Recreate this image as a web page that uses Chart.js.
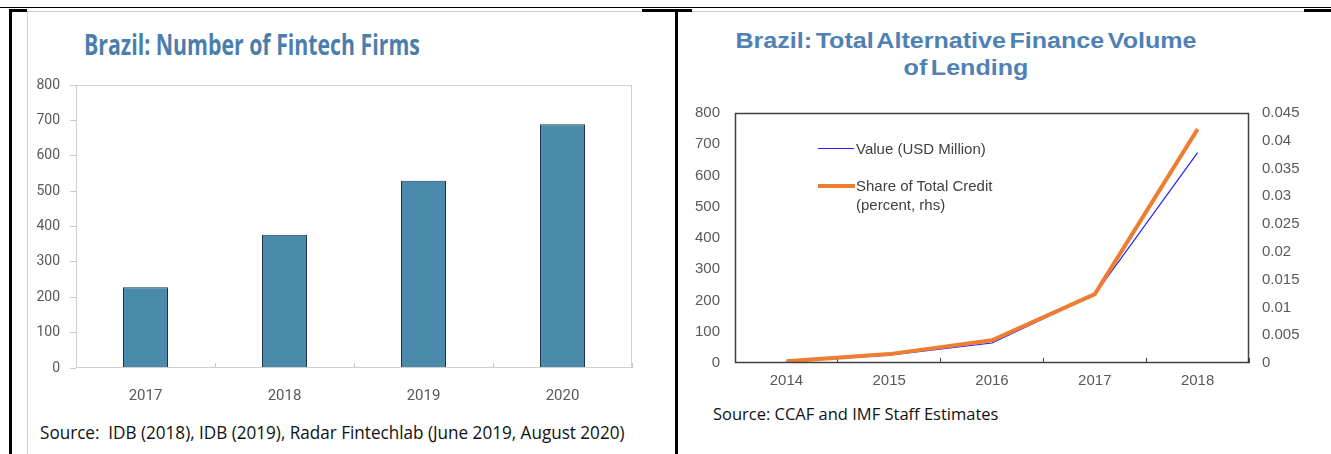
<!DOCTYPE html>
<html>
<head>
<meta charset="utf-8">
<script src="https://cdn.jsdelivr.net/npm/chart.js@4.4.1/dist/chart.umd.min.js"></script>
<style>
  html, body { margin: 0; padding: 0; background: #fff; }
  body { width: 1331px; height: 454px; position: relative; overflow: hidden; }
  .abs { position: absolute; }
  .rule { position: absolute; background: #000; }
  .gray { position: absolute; background: #d0d0d0; }
  canvas { position: absolute; }
  .t-left { left: 84px; top: 25px; font: bold 28px "Open Sans", sans-serif; color: #4a7ead;
            white-space: nowrap; transform-origin: left top; transform: scaleX(0.76); }
  .t-right { left: 700px; width: 532px; top: 27px; text-align: center; font: bold 22px "Liberation Sans", Arial, sans-serif;
             color: #4f81b5; line-height: 27px; word-spacing: -3px; white-space: nowrap;
             transform-origin: 266px 0; transform: scaleX(1.14); }
  .src { white-space: nowrap; color: #111; transform-origin: left top; }
  .src-left { left: 40px; top: 419px; font: 19px "Open Sans", sans-serif; transform: scaleX(0.9); }
  .src-right { left: 713px; top: 402px; font: 17px "Open Sans", sans-serif; transform: scaleX(0.97); }
  .leg { font: 15px "Liberation Sans", Arial, sans-serif; color: #404040; line-height: 19px; }
  .swatch { position: absolute; height: 0; }
</style>
</head>
<body>
<!-- page / table frame -->
<div class="rule" style="left:0;top:7px;width:1331px;height:1px;"></div>
<div class="rule" style="left:9px;top:9px;width:18px;height:3px;"></div>
<div class="rule" style="left:642px;top:9px;width:50px;height:3px;"></div>
<div class="rule" style="left:1304px;top:9px;width:27px;height:3px;"></div>
<div class="rule" style="left:9px;top:9px;width:3px;height:445px;"></div>
<div class="rule" style="left:675px;top:9px;width:3px;height:445px;"></div>
<div class="gray" style="left:27px;top:11px;width:615px;height:1px;"></div>
<div class="gray" style="left:692px;top:11px;width:612px;height:1px;"></div>
<div class="gray" style="left:27px;top:11px;width:1px;height:443px;"></div>

<div class="abs t-left">Brazil: Number of Fintech Firms</div>
<div class="abs t-right">Brazil: Total Alternative Finance Volume<br>of Lending</div>

<canvas id="firms" width="630" height="332" style="left:20px;top:78px;"></canvas>
<canvas id="lending" width="640" height="300" style="left:680px;top:100px;"></canvas>

<div id="legend"></div>

<div class="abs src src-left">Source:&nbsp; IDB (2018), IDB (2019), Radar Fintechlab (June 2019, August 2020)</div>
<div class="abs src src-right">Source: CCAF and IMF Staff Estimates</div>

<script>
// --- data ---
const fintechYears = ['2017', '2018', '2019', '2020'];
const fintechFirms = [228, 377, 529, 689];

const lendYears = ['2014', '2015', '2016', '2017', '2018'];
const lendValue = [4, 25, 64, 219, 673];            // USD million, lhs
const lendShare = [0.0003, 0.0016, 0.0041, 0.0124, 0.0421]; // percent, rhs

const valueLabel = 'Value (USD Million)';
const shareLabel = ['Share of Total Credit', '(percent, rhs)'];

Chart.defaults.animation = false;
Chart.defaults.plugins.legend.display = false;
Chart.defaults.plugins.tooltip.enabled = false;

// stroke the full plot box (top/right sides have no axis of their own)
const frame = {
    id: 'frame',
    afterDraw(chart, args, opts) {
        const a = chart.chartArea, ctx = chart.ctx;
        ctx.save();
        ctx.strokeStyle = opts.color;
        ctx.lineWidth = opts.width;
        ctx.strokeRect(a.left + 0.5, a.top + 0.5, a.right - a.left - 1, a.bottom - a.top - 1);
        ctx.restore();
    }
};

// fixed axis sizes; the big label gap must not leak into top/bottom padding
const fixW = w => function (s) { s.width = w; s.paddingTop = 0; s.paddingBottom = 0; };
const fixH = h => function (s) { s.height = h; };

new Chart(document.getElementById('firms'), {
    type: 'bar',
    data: {
        labels: fintechYears,
        datasets: [{
            data: fintechFirms,
            backgroundColor: '#4a8aab',
            borderColor: '#1c3446',
            borderWidth: 1,
            borderSkipped: 'bottom',
            categoryPercentage: 1,
            barPercentage: 0.324
        }]
    },
    options: {
        responsive: false,
        layout: { padding: { top: 7, right: 18, left: 0, bottom: 0 } },
        plugins: { frame: { color: '#d0d0d0', width: 1 } },
        scales: {
            x: {
                border: { display: false },
                grid: { offset: true, drawOnChartArea: false, drawTicks: true, tickLength: -5, color: '#c8c8c8' },
                ticks: { color: '#595959', font: { family: 'Roboto', size: 15 }, padding: 24 },
                afterFit: fixH(42)
            },
            y: {
                min: 0, max: 800,
                border: { display: false },
                grid: { drawOnChartArea: false, drawTicks: true, tickLength: 6, color: '#c8c8c8' },
                ticks: { stepSize: 100, color: '#595959', font: { family: 'Roboto', size: 14 }, padding: 10 },
                afterFit: fixW(56)
            }
        }
    },
    plugins: [frame]
});

new Chart(document.getElementById('lending'), {
    type: 'line',
    data: {
        labels: lendYears,
        datasets: [{
            label: valueLabel,
            data: lendValue,
            yAxisID: 'y',
            borderColor: '#1f1fff',
            borderWidth: 1.2,
            pointRadius: 0,
            tension: 0,
            order: 1
        }, {
            label: shareLabel.join(' '),
            data: lendShare,
            yAxisID: 'y2',
            borderColor: '#ed7d31',
            borderWidth: 4,
            pointRadius: 0,
            tension: 0,
            order: 0
        }]
    },
    options: {
        responsive: false,
        layout: { padding: { top: 13, right: 0, left: 0, bottom: 0 } },
        plugins: { frame: { color: '#404040', width: 1.5 } },
        scales: {
            x: {
                offset: true,
                border: { display: false },
                grid: { offset: true, drawOnChartArea: false, drawTicks: true, tickLength: -5, color: '#404040' },
                ticks: { color: '#595959', font: { family: 'Liberation Sans', size: 15 }, padding: 14 },
                afterFit: fixH(37)
            },
            y: {
                position: 'left',
                min: 0, max: 800,
                border: { display: false },
                grid: { display: false, drawTicks: false },
                ticks: { stepSize: 100, color: '#595959', font: { family: 'Liberation Sans', size: 15 }, padding: 15 },
                afterFit: fixW(55)
            },
            y2: {
                position: 'right',
                min: 0, max: 0.045,
                border: { display: false },
                grid: { display: false, drawTicks: false },
                ticks: {
                    stepSize: 0.005, color: '#595959', font: { family: 'Liberation Sans', size: 15 }, padding: 13,
                    callback: v => String(+v.toFixed(3))
                },
                afterFit: fixW(71)
            }
        }
    },
    plugins: [frame]
});

// legend sits inside the plot box, as in the source chart
const legend = document.getElementById('legend');
legend.innerHTML =
    '<div class="swatch" style="left:818px;top:148px;width:36px;border-top:1.2px solid #1f1fff;"></div>' +
    '<div class="abs leg" style="left:856px;top:139px;">' + valueLabel + '</div>' +
    '<div class="swatch" style="left:818px;top:184px;width:37px;border-top:4px solid #ed7d31;"></div>' +
    '<div class="abs leg" style="left:856px;top:176px;">' + shareLabel.join('<br>') + '</div>';
</script>
</body>
</html>
